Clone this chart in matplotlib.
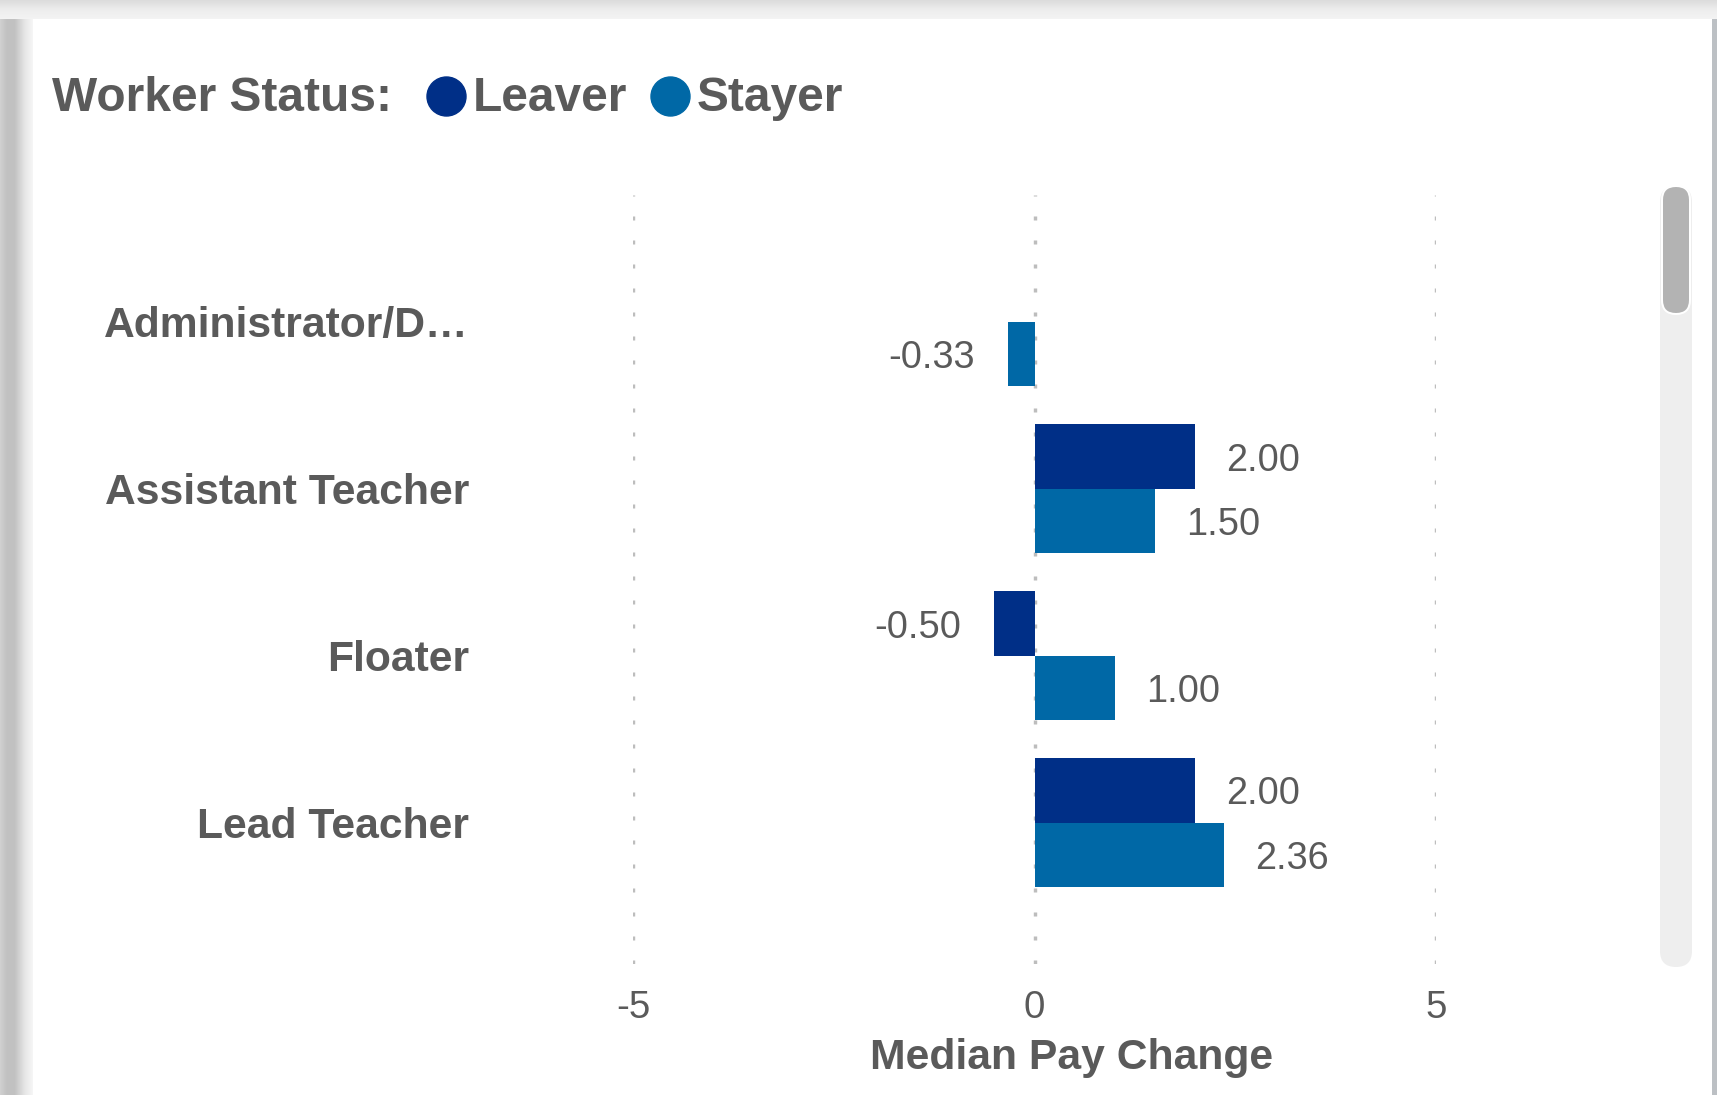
import matplotlib
matplotlib.use('Agg')
import matplotlib.pyplot as plt
import numpy as np
from matplotlib.patches import FancyBboxPatch, Rectangle
from matplotlib.lines import Line2D

# ---------------- data ----------------
categories = ["Administrator/D…", "Assistant Teacher", "Floater", "Lead Teacher"]
leaver = [np.nan, 2.00, -0.50, 2.00]
stayer = [-0.33, 1.50, 1.00, 2.36]
series_names = ["Leaver", "Stayer"]
x_ticks = [-5, 0, 5]
legend_title = "Worker Status:"
x_title = "Median Pay Change"

# ---------------- style ----------------
W, H = 1717, 1095
DPI = 100
PT = 72 / DPI  # points per pixel

TEXT = '#5A5A5A'
C_LEAVER = '#002F87'
C_STAYER = '#0068A6'
GRID = '#BDBDBD'

plt.rcParams['font.family'] = ['Liberation Sans', 'DejaVu Sans']

fig = plt.figure(figsize=(W / DPI, H / DPI), dpi=DPI, facecolor='white')

# ---------------- background frame (screenshot chrome) ----------------
bg = fig.add_axes([0, 0, 1, 1], zorder=-10)
bg.axis('off')


def grad(x0, x1, y0, y1, stops, horizontal=True):
    n = 128
    s = np.linspace(0, 1, n)
    vals = np.interp(s, [p[0] for p in stops], [p[1] for p in stops])
    if horizontal:
        img = np.repeat(vals[None, :, None], 3, axis=2)
    else:
        img = np.repeat(vals[:, None, None], 3, axis=2)
    bg.imshow(img, extent=(x0, x1, y1, y0), aspect='auto',
              interpolation='bilinear', vmin=0, vmax=1)


grad(0, W, 0, 19, [(0, 0.86), (0.5, 0.93), (1, 0.955)], horizontal=False)
grad(0, 32, 19, H, [(0, 0.82), (0.2, 0.76), (0.45, 0.76), (0.75, 0.9), (1, 0.965)])
bg.add_patch(Rectangle((1712, 19), 5, H - 19, color='#BCC0C4', lw=0))

# scrollbar
bg.add_patch(FancyBboxPatch((1660, 186), 32, 781,
                            boxstyle='round,pad=0,rounding_size=16',
                            fc='#EEEEEE', ec='none'))
bg.add_patch(FancyBboxPatch((1662, 186), 28, 128,
                            boxstyle='round,pad=0,rounding_size=14',
                            fc='#B3B3B3', ec='white', lw=2 * PT))
bg.set_xlim(0, W)
bg.set_ylim(H, 0)

# ---------------- main axes ----------------
ax = fig.add_axes([633 / W, 1 - 964 / H, 803 / W, 769 / H])
ax.set_xlim(-5, 5)
ax.set_ylim(3.847, -0.761)
ax.patch.set_alpha(0)
for sp in ax.spines.values():
    sp.set_visible(False)

h = 0.386
y = np.arange(len(categories))
leaver_arr = np.array(leaver, dtype=float)
stayer_arr = np.array(stayer, dtype=float)

m = ~np.isnan(leaver_arr)
ax.barh(y[m] - h / 2, leaver_arr[m], height=h, color=C_LEAVER, zorder=3)
ax.barh(y + h / 2, stayer_arr, height=h, color=C_STAYER, zorder=3)

# dotted gridlines
GLW = 3.4
for t in x_ticks:
    ax.axvline(t, color=GRID, lw=GLW * PT,
               linestyle=(0, (4 / GLW, 20 / GLW)), zorder=0)

# value labels
VAL_FS = 38 * PT
for yy, vals in ((y - h / 2, leaver_arr), (y + h / 2, stayer_arr)):
    for yi, v in zip(yy, vals):
        if np.isnan(v):
            continue
        off = 31 * PT if v >= 0 else -33 * PT
        ax.annotate(f"{v:.2f}", xy=(v, yi), xytext=(off, 0),
                    textcoords='offset points',
                    ha='left' if v >= 0 else 'right', va='center_baseline',
                    fontsize=VAL_FS, color=TEXT, annotation_clip=False)

# y tick labels (categories)
ax.set_yticks(y)
ax.set_yticklabels(categories, fontweight='bold')
ax.tick_params(axis='y', length=0, pad=(633 - 469) * PT,
               labelsize=42.6 * PT, labelcolor=TEXT)

# x tick labels
ax.set_xticks(x_ticks)
ax.set_xticklabels([str(t) for t in x_ticks])
ax.tick_params(axis='x', length=0, pad=26 * PT, labelsize=38.5 * PT,
               labelcolor=TEXT)

# x title
ax.set_xlabel(x_title, fontsize=42.6 * PT, fontweight='bold', color=TEXT)
ax.xaxis.set_label_coords((1072 - 633) / 803, -(1038 - 964) / 769)

# ---------------- legend (manual, figure coords) ----------------
LEG_FS = 47.9 * PT
fig.text(52 / W, 1 - 111 / H, legend_title, fontsize=LEG_FS, fontweight='bold',
         color=TEXT, ha='left', va='baseline')
for cx, tx, name, col in ((446, 473, series_names[0], C_LEAVER),
                          (670, 697, series_names[1], C_STAYER)):
    fig.add_artist(Line2D([cx / W], [1 - 96 / H], marker='o', ms=39 * PT,
                          color=col, mec=col, linestyle='none',
                          transform=fig.transFigure))
    fig.text(tx / W, 1 - 111 / H, name, fontsize=LEG_FS, fontweight='bold',
             color=TEXT, ha='left', va='baseline')

fig.savefig('out.png', dpi=DPI, facecolor='white')
